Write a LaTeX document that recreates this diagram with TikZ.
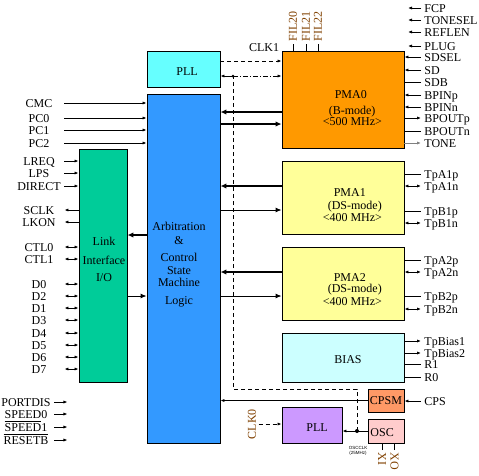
\documentclass[tikz,border=0pt]{standalone}
\usepackage{fontspec}
\setmainfont{Liberation Serif}
\newfontfamily\oscfont{Liberation Sans}
\usetikzlibrary{arrows, arrows.meta}
\definecolor{pllcyan}{HTML}{66FFFF}
\definecolor{arbblue}{HTML}{3399FF}
\definecolor{linkgreen}{HTML}{00CC99}
\definecolor{pmaorange}{HTML}{FF9900}
\definecolor{pmayellow}{HTML}{FFFF99}
\definecolor{biascyan}{HTML}{CCFFFF}
\definecolor{cpsmsalmon}{HTML}{FF9966}
\definecolor{oscpink}{HTML}{FFCCCC}
\definecolor{pllviolet}{HTML}{CC99FF}
\definecolor{pinbrown}{RGB}{128,64,0}

\begin{document}
\begin{tikzpicture}[x=1pt, y=-1pt, line width=0.9pt,
  >={Latex[length=4pt,width=3.2pt]},
  font=\fontsize{12}{11}\selectfont,
  blk/.style={draw, inner sep=0pt},
  lbl/.style={text width=44pt, align=center, inner xsep=3pt, inner ysep=0pt, text height=8pt, text depth=0pt},
  blbl/.style={lbl, text width=50pt},
  rlbl/.style={anchor=west, inner xsep=3pt, inner ysep=0pt, text height=8pt, text depth=0pt},
  pinlbl/.style={text=pinbrown, inner sep=2pt},
  bus/.style={line width=2.2pt, -{Latex[length=6pt,width=5.5pt]}},
  bigtip/.style={-{Latex[length=6pt,width=5pt]}},
  dsh/.style={dash pattern=on 4pt off 3pt},
  clkdash/.style={dash pattern=on 5pt off 2pt on 1pt off 2pt}]
\useasboundingbox (0,0) rectangle (479,475);
% blocks
\node[blk, fill=pllcyan, minimum width=73, minimum height=36] (pll1) at (183.5,69) {};
\node[blk, fill=arbblue, minimum width=73, minimum height=349] (arb) at (183.5,268.5) {};
\node[blk, fill=linkgreen, minimum width=48, minimum height=233] (link) at (103,265.5) {};
\node[blk, fill=pmaorange, minimum width=122, minimum height=97] (pma0) at (343,99.5) {};
\node[blk, fill=pmayellow, minimum width=122, minimum height=73] (pma1) at (343,197.5) {};
\node[blk, fill=pmayellow, minimum width=122, minimum height=73] (pma2) at (343,283.5) {};
\node[blk, fill=biascyan, minimum width=122, minimum height=49] (bias) at (343,357.5) {};
\node[blk, fill=cpsmsalmon, minimum width=36, minimum height=23] (cpsm) at (386,400.5) {CPSM};
\node[blk, fill=oscpink, minimum width=36, minimum height=24] (osc) at (386,431) {};
\node[blk, fill=pllviolet, minimum width=60, minimum height=36] (pll2) at (312,425) {};
% block texts
\node (pll1t) at (187,72) {PLL};
\node[align=center] (arbt) at (179,265) {Arbitration\\[3pt]\&\\[6pt]Control\\[2pt]State\\[1pt]Machine\\[7pt]Logic};
\node[align=center] (linkt) at (104,259) {Link\\[8pt]Interface\\[6pt]I/O};
\node[align=left, anchor=west] (pma0t) at (319,108) {\hspace*{12pt}PMA0\\[5pt]\hspace*{6pt}(B-mode)\\<500 MHz>};
\node[align=left, anchor=west] (pma1t) at (319,205) {\hspace*{11pt}PMA1\\[2pt]\hspace*{5pt}(DS-mode)\\[0.5pt]<400 MHz>};
\node[align=left, anchor=west] (pma2t) at (319,290) {\hspace*{11pt}PMA2\\\hspace*{5pt}(DS-mode)\\[2pt]<400 MHz>};
\node (biast) at (348,360) {BIAS};
\node (pll2t) at (317,428) {PLL};
\node[anchor=west, inner xsep=1pt] (osct) at (369,433) {OSC};
% clocks
\coordinate (clk1c) at (250,61);
\coordinate (dotA) at (233,76);
\coordinate (dotB) at (357,431);
\coordinate (turn) at (233,389);
\node (clk1) at (264,48) {CLK1};
\draw[dsh,->] (clk1c -| pll1.east) -- (clk1c -| pma0.west);
\draw[->] (dotA) -- (dotA -| pll1.east);
\draw[clkdash,->] (dotA) -- (dotA -| pma0.west);
\fill (dotA) circle (1.5pt);
\draw[dsh] (dotB) |- (turn) -- (dotA);
\draw[->] (dotB) -- (dotB -| pll2.east);
\draw (dotB) -- (dotB -| osc.west);
\fill (dotB) circle (2pt);
\node[font=\oscfont\fontsize{4.5}{5}\selectfont, align=center, inner sep=0pt] (oscclk) at (358,451) {OSCCLK\\(25MHz)};
\node[pinlbl, rotate=90] (clk0) at (252,424) {CLK0};
\draw[dsh,->] (clk0) -- (clk0 -| pll2.west);
\node[pinlbl, rotate=-90, anchor=west] (xi) at (382,450) {XI};
\node[pinlbl, rotate=-90, anchor=west] (xo) at (394.5,450) {XO};
\draw (xi.west) -- (xi.west |- osc.south);
\draw (xo.west) -- (xo.west |- osc.south);
\node[pinlbl, rotate=90, anchor=west] (fil20) at (293,44) {FIL20};
\node[pinlbl, rotate=90, anchor=west] (fil21) at (306,44) {FIL21};
\node[pinlbl, rotate=90, anchor=west] (fil22) at (318,44) {FIL22};
\draw (fil20.west) -- (fil20.west |- pma0.north);
\draw (fil21.west) -- (fil21.west |- pma0.north);
\draw (fil22.west) -- (fil22.west |- pma0.north);
% buses
\coordinate (b0a) at (250,112); \coordinate (b0b) at (250,124);
\coordinate (b1a) at (250,186); \coordinate (b1b) at (250,210);
\coordinate (b2a) at (250,272); \coordinate (b2b) at (250,296);
\coordinate (la) at (137,235); \coordinate (lb) at (137,296);
\draw[bus] (b0a -| pma0.west) -- (b0a -| arb.east);
\draw[bus] (b0b -| arb.east) -- (b0b -| pma0.west);
\draw[bus] (b1a -| pma1.west) -- (b1a -| arb.east);
\draw[bigtip] (b1b -| arb.east) -- (b1b -| pma1.west);
\draw[bus] (b2a -| pma2.west) -- (b2a -| arb.east);
\draw[bigtip] (b2b -| arb.east) -- (b2b -| pma2.west);
\draw[bus] (la -| arb.west) -- (la -| link.east);
\draw[bigtip] (lb -| link.east) -- (lb -| arb.west);
\draw[->] (cpsm.west) -- (cpsm.west -| arb.east);
% left signals
\node[lbl] (cmc) at (39,103) {CMC}; \draw[->] (cmc) -- (cmc -| arb.west);
\node[lbl] (pc0) at (39,118) {PC0}; \draw[->] (pc0) -- (pc0 -| arb.west);
\node[lbl] (pc1) at (39,130) {PC1}; \draw[->] (pc1) -- (pc1 -| arb.west);
\node[lbl] (pc2) at (39,143) {PC2}; \draw[->] (pc2) -- (pc2 -| arb.west);
\node[lbl] (lreq) at (39,161) {LREQ}; \draw[->] (lreq) -- (lreq -| link.west);
\node[lbl] (lps) at (39,173) {LPS}; \draw[->] (lps) -- (lps -| link.west);
\node[lbl] (direct) at (39,186) {DIRECT}; \draw[->] (direct) -- (direct -| link.west);
\node[lbl] (sclk) at (39,210) {SCLK}; \draw[<-] (sclk) -- (sclk -| link.west);
\node[lbl] (lkon) at (39,222) {LKON}; \draw[<-] (lkon) -- (lkon -| link.west);
\node[lbl] (ctl0) at (39,247) {CTL0}; \draw[<->] (ctl0) -- (ctl0 -| link.west);
\node[lbl] (ctl1) at (39,259) {CTL1}; \draw[<->] (ctl1) -- (ctl1 -| link.west);
\node[lbl] (d0) at (39,284) {D0}; \draw[<->] (d0) -- (d0 -| link.west);
\node[lbl] (d2) at (39,296) {D2}; \draw[<->] (d2) -- (d2 -| link.west);
\node[lbl] (d1) at (39,308) {D1}; \draw[<->] (d1) -- (d1 -| link.west);
\node[lbl] (d3) at (39,320) {D3}; \draw[<->] (d3) -- (d3 -| link.west);
\node[lbl] (d4) at (39,333) {D4}; \draw[<->] (d4) -- (d4 -| link.west);
\node[lbl] (d5) at (39,345) {D5}; \draw[<->] (d5) -- (d5 -| link.west);
\node[lbl] (d6) at (39,357) {D6}; \draw[<->] (d6) -- (d6 -| link.west);
\node[lbl] (d7) at (39,369) {D7}; \draw[<->] (d7) -- (d7 -| link.west);
\node[blbl] (portdis) at (26,402) {PORTDIS}; \draw[->] (portdis.east) -- ++(13,0);
\node[blbl] (speed0) at (26,414) {SPEED0}; \draw[->] (speed0.east) -- ++(13,0);
\node[blbl] (speed1) at (26,427) {$\overline{\mbox{SPEED}}$1}; \draw[->] (speed1.east) -- ++(13,0);
\node[blbl] (resetb) at (26,440) {$\overline{\mbox{RESETB}}$}; \draw[->] (resetb.east) -- ++(13,0);
% right signals
\node[rlbl] (fcp) at (421,8) {FCP}; \draw[->] (fcp.west) -- ++(-13,0);
\node[rlbl] (tonesel) at (421,20) {TONESEL}; \draw[->] (tonesel.west) -- ++(-13,0);
\node[rlbl] (reflen) at (421,32) {REFLEN}; \draw[->] (reflen.west) -- ++(-13,0);
\node[rlbl] (plug) at (421,46) {PLUG}; \draw[->] (plug.west) -- ++(-13,0);
\node[rlbl] (sdsel) at (421,57) {SDSEL}; \draw[->] (sdsel) -- (sdsel -| pma0.east);
\node[rlbl] (sd) at (421,70) {SD}; \draw[->] (sd) -- (sd -| pma0.east);
\node[rlbl] (sdb) at (421,82) {SDB}; \draw (sdb) -- (sdb -| pma0.east);
\node[rlbl] (bpinp) at (421,95) {BPINp}; \draw[->] (bpinp) -- (bpinp -| pma0.east);
\node[rlbl] (bpinn) at (421,107) {BPINn}; \draw[->] (bpinn) -- (bpinn -| pma0.east);
\node[rlbl] (bpoutp) at (421,118) {BPOUTp}; \draw[->] (bpoutp -| pma0.east) -- (bpoutp);
\node[rlbl] (bpoutn) at (421,131) {BPOUTn}; \draw (bpoutn -| pma0.east) -- (bpoutn);
\node[rlbl] (tone) at (421,143) {TONE}; \draw[->, gray] (tone -| pma0.east) -- (tone);
\node[rlbl] (tpa1p) at (421,174) {TpA1p}; \draw (tpa1p -| pma1.east) -- (tpa1p);
\node[rlbl] (tpa1n) at (421,186) {TpA1n}; \draw[<->] (tpa1n -| pma1.east) -- (tpa1n);
\node[rlbl] (tpb1p) at (421,211) {TpB1p}; \draw (tpb1p -| pma1.east) -- (tpb1p);
\node[rlbl] (tpb1n) at (421,223) {TpB1n}; \draw[<->] (tpb1n -| pma1.east) -- (tpb1n);
\node[rlbl] (tpa2p) at (421,260) {TpA2p}; \draw (tpa2p -| pma2.east) -- (tpa2p);
\node[rlbl] (tpa2n) at (421,272) {TpA2n}; \draw[<->] (tpa2n -| pma2.east) -- (tpa2n);
\node[rlbl] (tpb2p) at (421,296) {TpB2p}; \draw (tpb2p -| pma2.east) -- (tpb2p);
\node[rlbl] (tpb2n) at (421,309) {TpB2n}; \draw[<->] (tpb2n -| pma2.east) -- (tpb2n);
\node[rlbl] (tpbias1) at (421,341) {TpBias1}; \draw[->] (tpbias1 -| bias.east) -- (tpbias1);
\node[rlbl] (tpbias2) at (421,353) {TpBias2}; \draw[->] (tpbias2 -| bias.east) -- (tpbias2);
\node[rlbl] (r1) at (421,364) {R1}; \draw (r1 -| bias.east) -- (r1);
\node[rlbl] (r0) at (421,377) {R0}; \draw (r0 -| bias.east) -- (r0);
\node[rlbl] (cps) at (421,401) {CPS}; \draw[->] (cps) -- (cps -| cpsm.east);
\end{tikzpicture}
\end{document}
